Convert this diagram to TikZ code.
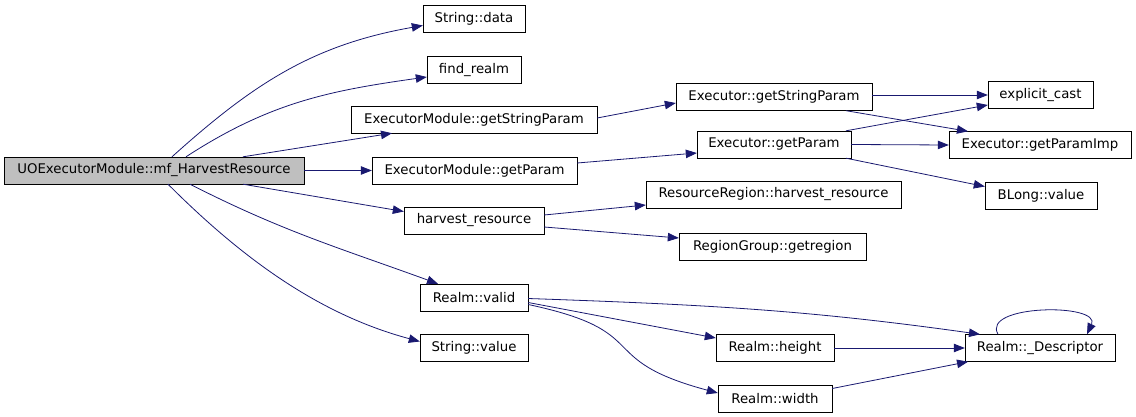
\documentclass[tikz,border=0pt]{standalone}
\usepackage{fontspec}
\setmainfont{DejaVu Sans}
\usetikzlibrary{arrows.meta}
\definecolor{callblue}{RGB}{25,25,112}
\definecolor{rootgray}{RGB}{191,191,191}
\tikzset{
  fn/.style={draw, rectangle, minimum height=27pt, inner sep=0pt, font=\fontsize{13.3}{15}\selectfont},
  call/.style={draw, color=callblue, line width=0.8pt, -{Triangle[length=11pt,width=8.5pt]}}
}
\begin{document}
\begin{tikzpicture}[x=1pt, y=1pt]
      \useasboundingbox (0,0) rectangle (1136,-417);
      \node[fn, fill=rootgray, minimum width=300pt] (main) at (154,-170.5) {UOExecutorModule::mf\_HarvestResource};
      \node[fn, minimum width=102pt] (sdata) at (474,-18.5) {String::data};
      \node[fn, minimum width=94pt] (findrealm) at (474,-70) {find\_realm};
      \node[fn, minimum width=246pt] (emgsp) at (474,-119.5) {ExecutorModule::getStringParam};
      \node[fn, minimum width=205pt] (emgp) at (474.5,-170.5) {ExecutorModule::getParam};
      \node[fn, minimum width=140pt] (harvest) at (474,-220.5) {harvest\_resource};
      \node[fn, minimum width=108pt] (valid) at (474,-297.5) {Realm::valid};
      \node[fn, minimum width=108pt] (svalue) at (474,-348) {String::value};
      \node[fn, minimum width=196pt] (egsp) at (774,-97) {Executor::getStringParam};
      \node[fn, minimum width=154pt] (egp) at (774,-144.5) {Executor::getParam};
      \node[fn, minimum width=255pt] (rr) at (773.5,-194.5) {ResourceRegion::harvest\_resource};
      \node[fn, minimum width=187pt] (rg) at (772.5,-246.5) {RegionGroup::getregion};
      \node[fn, minimum width=118pt] (height) at (775,-348) {Realm::height};
      \node[fn, minimum width=114pt] (width) at (775,-398.5) {Realm::width};
      \node[fn, minimum width=105pt] (ec) at (1040.5,-95) {explicit\_cast};
      \node[fn, minimum width=182pt] (gpi) at (1040,-145) {Executor::getParamImp};
      \node[fn, minimum width=112pt] (blong) at (1041,-195.5) {BLong::value};
      \node[fn, minimum width=150pt] (desc) at (1040,-348) {Realm::\_Descriptor};

      % straight calls
      \foreach \src/\sx/\sy/\dst/\dx/\dy in {main.north/89/0/emgsp.south/-82/0, main.east/0/0/emgp.west/0/0,
          main.south/89/0/harvest.west/0/9, emgsp.east/0/1.5/egsp.west/0/-6, emgp.east/0/7.5/egp.west/0/-8.5,
          harvest.east/0/5.5/rr.west/0/-10.5, harvest.east/0/-6.5/rg.west/0/8.5, valid.east/0/-5/height.west/0/10,
          egsp.east/0/2/ec.west/0/0, egsp.south/72/0/gpi.north/-72/0, egp.north/72/0/ec.west/0/-10,
          egp.east/0/0/gpi.west/0/0, egp.south/72/0/blong.west/0/9, height.east/0/0/desc.west/0/0,
          width.east/0/10/desc.south/-72/0}
        \path ([xshift=\sx,yshift=\sy]\src) edge[call] ([xshift=\dx,yshift=\dy]\dst);

      % curved calls
      \foreach \src/\sx/\sy/\dst/\dx/\dy/\o/\i/\l in {main.north/18/0/sdata.west/0/-7/42/190/1,
          main.north/32/0/findrealm.west/0/-7/33/188/1, main.south/36/0/valid.north/-36/0/-27/160/1,
          main.south/14/0/svalue.west/0/6.5/-45/165/0.9, valid.east/0/-1/desc.north/-60/0/-2/172/1,
          valid.east/0/-7/width.west/0/5.5/-12/165/1.6}
        \path ([xshift=\sx,yshift=\sy]\src) edge[call, out=\o, in=\i, looseness=\l] ([xshift=\dx,yshift=\dy]\dst);

      \path ([xshift=-42]desc.north) edge[call, out=120, in=65] ([xshift=47]desc.north);
    \end{tikzpicture}
\end{document}
